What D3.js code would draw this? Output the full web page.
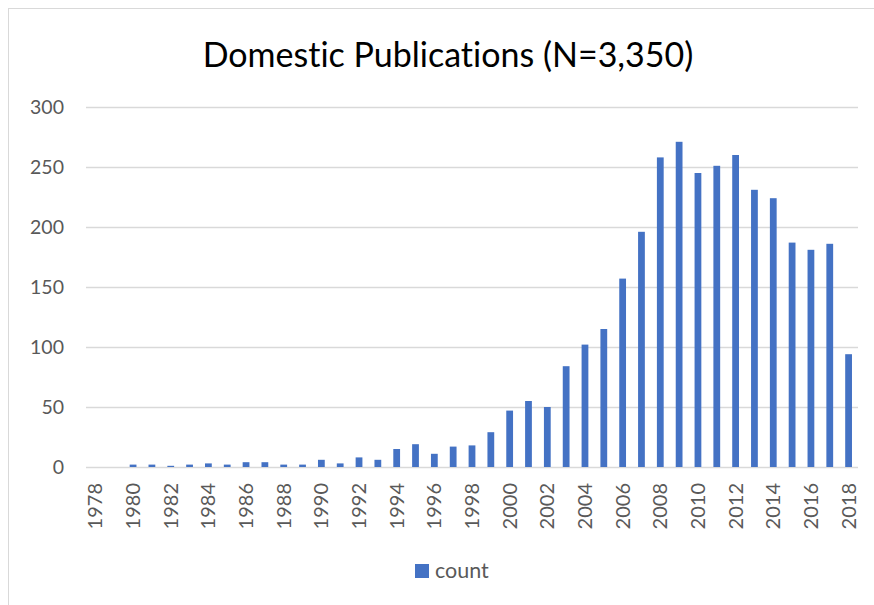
<!DOCTYPE html>
<html>
<head>
<meta charset="utf-8">
<script src="https://cdn.jsdelivr.net/npm/d3@7"></script>
<style>
  html, body { margin: 0; padding: 0; background: #fff; }
  svg { display: block; }
  text { font-variant-ligatures: none; font-feature-settings: "liga" 0, "dlig" 0; }
</style>
</head>
<body>
<svg id="chart" width="874" height="605"></svg>
<script>
// Publication counts per year
const years = d3.range(1978, 2019).map(String);
const counts = [
  0, 0, 2, 2, 1, 2, 3, 2, 4, 4,
  2, 2, 6, 3, 8, 6, 15, 19, 11, 17,
  18, 29, 47, 55, 50, 84, 102, 115, 157, 196,
  258, 271, 245, 251, 260, 231, 224, 187, 181, 186,
  94
];
const yTicks = [0, 50, 100, 150, 200, 250, 300];
const xTickLabels = years.filter((d, i) => i % 2 === 0);
const seriesName = "count";
const title = "Domestic Publications (N=3,350)";

const svg = d3.select("#chart");
const font = "Lato, 'Open Sans', sans-serif";
const margin = { left: 86, right: 16, top: 107, bottom: 138 };
const W = 874, H = 605;

// chart area frame
svg.append("rect")
  .attr("x", 8.5).attr("y", 8.5)
  .attr("width", W + 10).attr("height", H + 10)
  .attr("fill", "#fff").attr("stroke", "#d9d9d9").attr("stroke-width", 1);

const x = d3.scaleBand()
  .domain(years)
  .range([margin.left, W - margin.right])
  .paddingInner(0.64)
  .paddingOuter(0.32);

const y = d3.scaleLinear()
  .domain([0, 300])
  .range([H - margin.bottom, margin.top]);

// horizontal gridlines
svg.append("g")
  .selectAll("line")
  .data(yTicks)
  .join("line")
  .attr("x1", margin.left).attr("x2", W - margin.right)
  .attr("y1", d => Math.round(y(d)) + 0.5).attr("y2", d => Math.round(y(d)) + 0.5)
  .attr("stroke", "#d9d9d9").attr("stroke-width", 1.3);

// y axis labels
const yAxis = d3.axisLeft(y).tickValues(yTicks).tickSize(0).tickPadding(22);
const gy = svg.append("g")
  .attr("transform", `translate(${margin.left},0)`)
  .call(yAxis);
gy.select(".domain").remove();
gy.selectAll("text")
  .attr("font-family", font).attr("font-size", 19.5)
  .attr("fill", "#595959");

// bars
svg.append("g")
  .selectAll("rect")
  .data(counts.map((v, i) => ({ year: years[i], value: v })))
  .join("rect")
  .attr("x", d => x(d.year))
  .attr("y", d => y(d.value))
  .attr("width", x.bandwidth())
  .attr("height", d => y(0) - y(d.value))
  .attr("fill", "#4472c4");

// x axis labels, rotated
const xAxis = d3.axisBottom(x).tickValues(xTickLabels).tickSize(0).tickPadding(0);
const gx = svg.append("g")
  .attr("transform", `translate(0,${y(0)})`)
  .call(xAxis);
gx.select(".domain").remove();
gx.selectAll("text")
  .attr("font-family", font).attr("font-size", 20)
  .attr("fill", "#595959")
  .attr("text-anchor", "end")
  .attr("dy", "0.35em")
  .attr("transform", "translate(0,16) rotate(-90)");

// title
svg.append("text")
  .attr("x", 448).attr("y", 67)
  .attr("text-anchor", "middle")
  .attr("font-family", font).attr("font-size", 34)
  .attr("fill", "#000")
  .text(title);

// legend
const lg = svg.append("g").attr("transform", "translate(415,564)");
lg.append("rect").attr("width", 14).attr("height", 14).attr("fill", "#4472c4");
lg.append("text")
  .attr("x", 20).attr("y", 14)
  .attr("font-family", font).attr("font-size", 21.5)
  .attr("fill", "#595959")
  .text(seriesName);
</script>
</body>
</html>
